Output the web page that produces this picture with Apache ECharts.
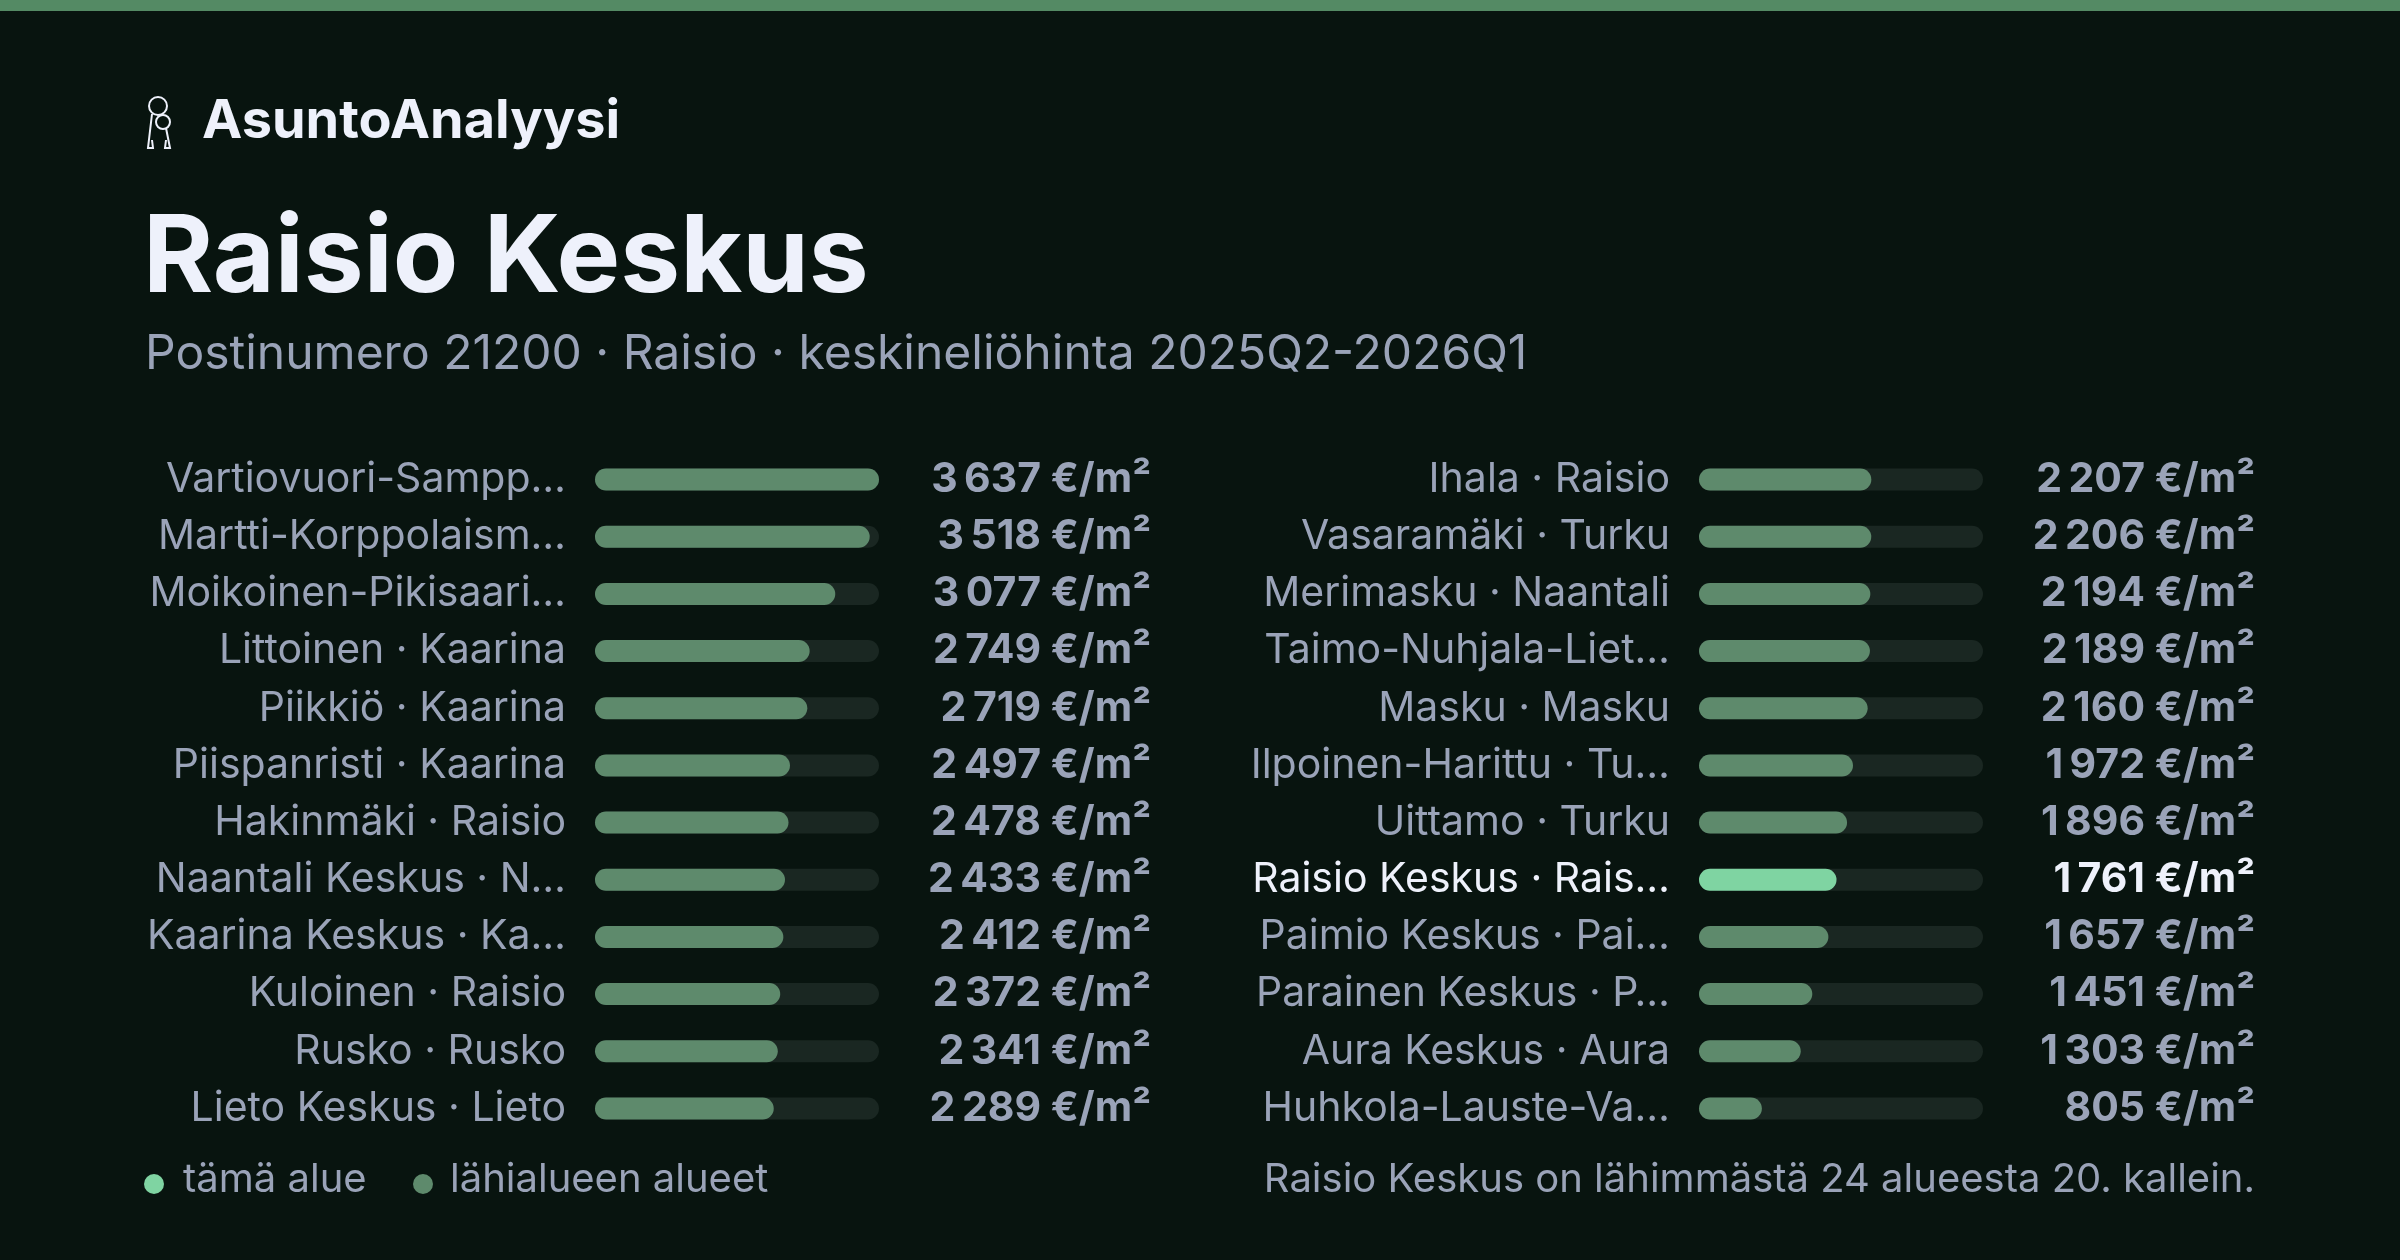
<!DOCTYPE html>
<html>
<head>
<meta charset="utf-8">
<script src="https://cdn.jsdelivr.net/npm/echarts@6/dist/echarts.min.js"></script>
<style>
  html, body { margin: 0; padding: 0; background: #08140f; }
  #chart { width: 2400px; height: 1260px; }
</style>
</head>
<body>
<div id="chart"></div>
<script>
  const leftNames = ["Vartiovuori-Sampp…", "Martti-Korppolaism…", "Moikoinen-Pikisaari…", "Littoinen · Kaarina",
    "Piikkiö · Kaarina", "Piispanristi · Kaarina", "Hakinmäki · Raisio", "Naantali Keskus · N…",
    "Kaarina Keskus · Ka…", "Kuloinen · Raisio", "Rusko · Rusko", "Lieto Keskus · Lieto"];
  const leftValues = [3637, 3518, 3077, 2749, 2719, 2497, 2478, 2433, 2412, 2372, 2341, 2289];
  const rightNames = ["Ihala · Raisio", "Vasaramäki · Turku", "Merimasku · Naantali", "Taimo-Nuhjala-Liet…",
    "Masku · Masku", "Ilpoinen-Harittu · Tu…", "Uittamo · Turku", "Raisio Keskus · Rais…",
    "Paimio Keskus · Pai…", "Parainen Keskus · P…", "Aura Keskus · Aura", "Huhkola-Lauste-Va…"];
  const rightValues = [2207, 2206, 2194, 2189, 2160, 1972, 1896, 1761, 1657, 1451, 1303, 805];
  const highlightName = "Raisio Keskus · Rais…";
  const maxValue = 3637;

  const FONT = "Inter, 'Noto Sans', sans-serif";
  const C = {
    bg: "#08140f", bar: "#5e8a6c", hi: "#7fd4a2", track: "#1a2722",
    label: "#9aa3b8", strong: "#eef1fb"
  };

  const fmt = v => String(v).replace(/\B(?=(\d{3})+(?!\d))/g, "\u202f") + " €/m²";

  function panel(idx, names, values, left) {
    const grid = { left: left, width: 284, top: 451, height: 686 };
    const yName = {
      gridIndex: idx, type: "category", inverse: true, data: names,
      axisLine: { show: false }, axisTick: { show: false },
      axisLabel: {
        margin: 29, fontFamily: FONT, fontSize: 41,
        formatter: n => n === highlightName ? "{hi|" + n + "}" : n,
        color: C.label,
        rich: { hi: { color: C.strong, fontSize: 41, fontFamily: FONT } }
      }
    };
    const yVal = {
      gridIndex: idx, type: "category", inverse: true, position: "right",
      data: names.map((n, i) => n === highlightName ? "{hi|" + fmt(values[i]) + "}" : fmt(values[i])),
      axisLine: { show: false }, axisTick: { show: false },
      axisLabel: {
        margin: 272, align: "right", fontFamily: FONT, fontSize: 41, fontWeight: "bold", color: C.label,
        rich: { hi: { color: C.strong, fontSize: 41, fontWeight: "bold", fontFamily: FONT } }
      }
    };
    const x = { gridIndex: idx, type: "value", min: 0, max: maxValue, show: false };
    const series = {
      type: "bar", xAxisIndex: idx, yAxisIndex: idx * 2,
      barWidth: 22, showBackground: true,
      backgroundStyle: { color: C.track, borderRadius: 11 },
      data: values.map((v, i) => ({
        value: v,
        itemStyle: { color: names[i] === highlightName ? C.hi : C.bar, borderRadius: 11 }
      })),
      silent: true, animation: false
    };
    return { grid, yName, yVal, x, series };
  }

  const L = panel(0, leftNames, leftValues, 595);
  const R = panel(1, rightNames, rightValues, 1699);

  const chart = echarts.init(document.getElementById("chart"));
  chart.setOption({
    backgroundColor: C.bg,
    animation: false,
    grid: [L.grid, R.grid],
    xAxis: [L.x, R.x],
    yAxis: [L.yName, L.yVal, R.yName, R.yVal],
    series: [L.series, R.series],
    graphic: [
      { type: "rect", left: 0, top: 0, shape: { width: 2400, height: 11 }, style: { fill: "#548a64" } },
      // key icon
      { type: "circle", shape: { cx: 158, cy: 106, r: 9 }, style: { fill: "none", stroke: "#eef1fb", lineWidth: 2 } },
      { type: "circle", shape: { cx: 163, cy: 122, r: 7 }, style: { fill: "none", stroke: "#eef1fb", lineWidth: 2 } },
      { type: "polyline", shape: { points: [[152, 114], [148, 148], [153, 148], [152, 140]] }, style: { fill: "none", stroke: "#eef1fb", lineWidth: 2 } },
      { type: "polyline", shape: { points: [[166, 128], [170, 148], [165, 148], [166, 140]] }, style: { fill: "none", stroke: "#eef1fb", lineWidth: 2 } },
      { type: "text", left: 202, top: 95, style: { text: "AsuntoAnalyysi", fill: "#eef1fb", font: "bold 54px " + FONT } },
      { type: "text", left: 143, top: 206, style: { text: "Raisio Keskus", fill: "#eef1fb", font: "bold 107px " + FONT } },
      { type: "text", left: 145, top: 331, style: { text: "Postinumero 21200 · Raisio · keskineliöhinta 2025Q2-2026Q1", fill: C.label, font: "48px " + FONT } },
      { type: "circle", shape: { cx: 154, cy: 1184, r: 10 }, style: { fill: C.hi } },
      { type: "text", left: 183, top: 1160, style: { text: "tämä alue", fill: C.label, font: "40px " + FONT } },
      { type: "circle", shape: { cx: 423, cy: 1184, r: 10 }, style: { fill: C.bar } },
      { type: "text", left: 450, top: 1160, style: { text: "lähialueen alueet", fill: C.label, font: "40px " + FONT } },
      { type: "text", right: 145, top: 1160, style: { text: "Raisio Keskus on lähimmästä 24 alueesta 20. kallein.", fill: C.label, font: "40px " + FONT, align: "right" } }
    ]
  });
</script>
</body>
</html>
